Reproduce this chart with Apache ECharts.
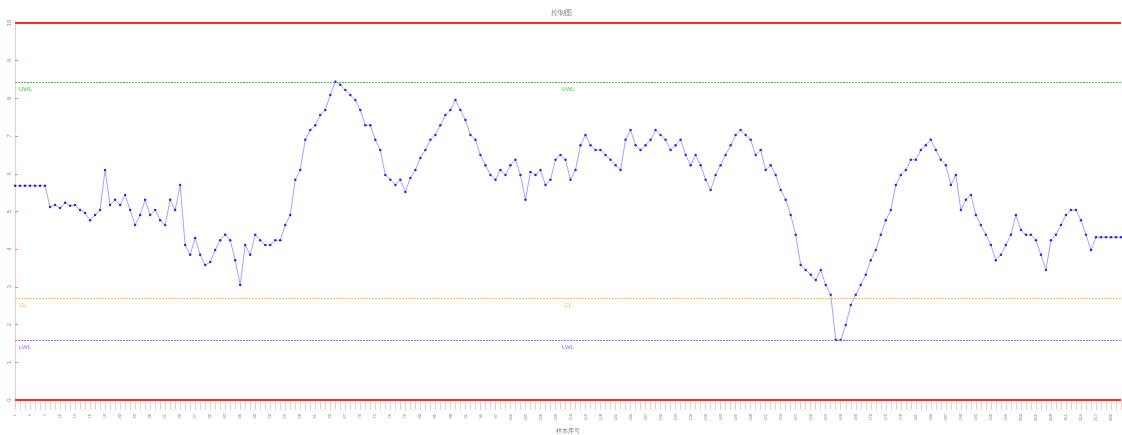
<!DOCTYPE html>
<html>
<head>
<meta charset="utf-8">
<script src="https://cdn.jsdelivr.net/npm/echarts@6/dist/echarts.min.js"></script>
<style>
  html,body{margin:0;padding:0;background:#fff;}
  #main{width:1122px;height:435px;}
</style>
</head>
<body>
<div id="main"></div>
<script>
// sample values
const values = [
  5.68,5.68,5.68,5.68,5.68,5.68,5.68,
  5.12,5.17,5.09,5.23,5.15,5.17,5.04,4.96,4.77,4.91,5.04,6.10,5.17,5.31,5.17,5.44,5.04,4.64,4.91,5.31,4.91,5.04,4.77,4.64,5.31,5.04,5.70,
  4.11,3.85,4.30,3.85,3.58,3.66,3.98,4.24,4.38,4.24,3.71,3.05,4.11,3.85,4.38,4.24,4.11,4.11,4.24,4.24,4.64,4.91,
  5.84,6.10,6.90,7.16,7.29,7.56,7.69,8.09,8.44,8.36,8.22,8.09,7.96,7.69,7.29,7.29,6.90,6.63,5.97,5.84,5.70,5.84,5.52,5.89,
  6.10,6.42,6.63,6.90,7.03,7.29,7.56,7.69,7.96,7.69,7.43,7.03,6.90,6.50,6.23,5.97,5.84,6.10,5.97,6.23,6.37,5.97,5.31,6.05,
  5.97,6.10,5.70,5.84,6.37,6.50,6.37,5.84,6.10,6.76,7.03,6.76,6.63,6.63,6.50,6.37,6.23,6.10,6.90,7.16,6.76,6.63,6.76,6.90,
  7.16,7.03,6.90,6.63,6.76,6.90,6.50,6.23,6.50,6.23,5.84,5.57,5.97,6.23,6.50,6.76,7.03,7.16,7.03,6.90,6.50,6.63,6.10,6.23,
  5.97,5.57,5.31,4.91,4.38,3.58,3.45,3.32,3.18,3.45,3.05,2.79,1.59,1.59,1.99,2.52,2.79,3.05,3.32,3.71,3.98,4.38,4.77,5.04,
  5.70,5.97,6.10,6.37,6.37,6.63,6.76,6.90,6.63,6.37,6.23,5.70,5.97,5.04,5.31,5.44,4.91,4.64,4.38,4.11,3.71,3.85,4.11,4.38,
  4.91,4.51,4.38,4.38,4.24,3.85,3.45,4.24,4.38,4.64,4.91,5.04,5.04,4.77,4.38,3.98,4.32,4.32,4.32,4.32,4.32,4.32
];
const categories = values.map((v, i) => String(i + 1));

// control limits
const limitNames = ['UCL', 'UWL', 'CL', 'LWL', 'LCL'];
const limitValues = [10, 8.42, 2.69, 1.58, 0];
const limitColors = ['#ff2a2a', '#44c844', '#ffbb33', '#9966ff', '#ff2a2a'];
const limitLabels = [false, true, true, true, false];

const yMin = 0, yMax = 10, yStep = 1;

const myChart = echarts.init(document.getElementById('main'));

const markData = [];
limitValues.forEach((v, i) => {
  const isRed = !limitLabels[i];
  const lineStyle = {color: limitColors[i], type: isRed ? 'solid' : [2, 1], width: isRed ? 2 : 1};
  markData.push({
    yAxis: v, name: limitNames[i], lineStyle,
    label: {show: limitLabels[i], position: 'insideStartBottom', formatter: limitNames[i],
      color: limitColors[i], fontSize: 6, distance: 4}
  });
  if (limitLabels[i]) {
    markData.push({
      yAxis: v, name: limitNames[i], lineStyle,
      label: {show: true, position: 'insideMiddleBottom', formatter: limitNames[i],
        color: limitColors[i], fontSize: 6, distance: 4}
    });
  }
});

const option = {
  animation: false,
  title: {
    text: '控制图', left: 'center', top: 5,
    textStyle: {fontSize: 7, fontWeight: 'normal', color: '#777'}
  },
  grid: {left: 15, right: 1, top: 23, bottom: 35, outerBoundsMode: 'none', containLabel: false},
  xAxis: {
    type: 'category', data: categories, boundaryGap: false,
    name: '样本序号', nameLocation: 'middle', nameGap: 27,
    nameTextStyle: {fontSize: 6, color: '#777'},
    axisLine: {lineStyle: {color: '#ffb3b3'}},
    axisTick: {interval: 0, length: 10, lineStyle: {color: '#ffc8c8'}},
    axisLabel: {interval: 2, rotate: 90, fontSize: 4, color: '#777', margin: 14}
  },
  yAxis: {
    type: 'value', min: yMin, max: yMax, interval: yStep,
    name: '测量值', nameLocation: 'middle', nameGap: 8, nameRotate: 90,
    nameTextStyle: {fontSize: 4, color: '#555'},
    splitLine: {show: false},
    axisLine: {show: true, lineStyle: {color: '#ffc8c8'}},
    axisTick: {show: true, length: 3, inside: true, lineStyle: {color: '#ff8080'}},
    axisLabel: {fontSize: 6, color: '#888', margin: 3, rotate: 90}
  },
  series: [{
    type: 'line', data: values,
    symbol: 'circle', symbolSize: 2.5,
    itemStyle: {color: '#2828e6'},
    lineStyle: {color: '#8c8cff', width: 0.8},
    markLine: {symbol: 'none', silent: true, data: markData}
  }]
};
myChart.setOption(option);
</script>
</body>
</html>
